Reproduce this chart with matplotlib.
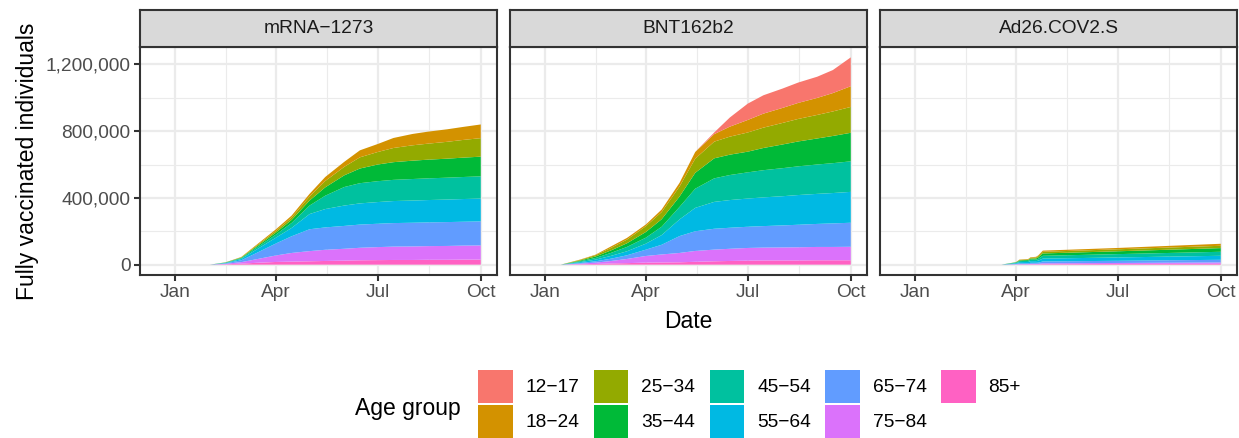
import numpy as np
import matplotlib
matplotlib.use('Agg')
import matplotlib.pyplot as plt
import matplotlib.dates as mdates
from matplotlib.patches import Patch
from matplotlib.ticker import FixedLocator, FuncFormatter
import datetime as dt

plt.rcParams['font.family'] = ['Liberation Sans', 'DejaVu Sans']

vaccines = ['mRNA\u22121273', 'BNT162b2', 'Ad26.COV2.S']
age_groups = ['12\u221217', '18\u221224', '25\u221234', '35\u221244', '45\u221254',
              '55\u221264', '65\u221274', '75\u221284', '85+']
colors = ['#F8766D', '#D39200', '#93AA00', '#00BA38', '#00C19F',
          '#00B9E3', '#619CFF', '#DB72FB', '#FF61C3']

# sample dates for the two mRNA vaccines
dates = ['2020-12-15', '2021-01-01', '2021-01-15', '2021-02-01', '2021-02-15',
         '2021-03-01', '2021-03-15', '2021-04-01', '2021-04-15', '2021-05-01',
         '2021-05-15', '2021-06-01', '2021-06-15', '2021-07-01', '2021-07-15',
         '2021-08-01', '2021-08-15', '2021-09-01', '2021-09-15', '2021-10-01']
dates_ad26 = ['2020-12-15', '2021-03-19', '2021-04-01', '2021-04-04', '2021-04-12',
              '2021-04-14', '2021-04-19', '2021-04-21', '2021-04-25', '2021-07-01',
              '2021-10-01']

# cumulative fully vaccinated, thousands, one row per age group (12-17 ... 85+)
mrna_1273 = [
    [0, 0, 0, 0, 0, 0, 0, 0, 0, 0, 0, 0, 0, 0, 0, 0, 0, 0, 0, 0],
    [0, 0, 0, 0, 0, 2, 5, 10, 12, 16, 24, 30, 42, 48, 60, 68, 72, 75, 78, 82],
    [0, 0, 0, 0, 1, 2, 6, 10, 14, 24, 38, 51, 67, 75, 85, 92, 96, 101, 106, 111],
    [0, 0, 0, 0, 1, 3, 7, 12, 18, 30, 50, 70, 88, 100, 106, 110, 112, 114, 116, 118],
    [0, 0, 0, 0, 2, 5, 11, 18, 30, 51, 80, 111, 121, 125, 127, 129, 130, 131, 132, 133],
    [0, 0, 0, 0, 2, 8, 21, 35, 50, 91, 110, 122, 127, 130, 132, 133, 134, 135, 136, 137],
    [0, 0, 0, 0, 3, 11, 38, 72, 100, 131, 134, 137, 139, 140, 141, 142, 142, 143, 143, 144],
    [0, 0, 0, 0, 3, 9, 22, 39, 52, 61, 67, 71, 75, 78, 80, 81, 82, 83, 84, 85],
    [0, 0, 0, 0, 2, 6, 11, 16, 18, 20, 22, 24, 26, 27, 28, 28, 29, 29, 30, 30],
]
bnt162b2 = [
    [0, 0, 0, 0, 0, 0, 0, 0, 0, 0, 0, 10, 55, 98, 110, 116, 122, 127, 138, 173],
    [0, 0, 0, 2, 3, 9, 10, 10, 15, 22, 40, 45, 60, 75, 84, 90, 96, 102, 110, 124],
    [0, 0, 0, 4, 8, 15, 22, 35, 43, 60, 85, 100, 108, 115, 122, 129, 135, 141, 147, 155],
    [0, 0, 0, 4, 9, 15, 22, 34, 45, 62, 95, 120, 122, 124, 133, 142, 149, 156, 163, 171],
    [0, 0, 0, 5, 10, 18, 26, 36, 50, 75, 115, 141, 150, 157, 163, 168, 172, 176, 179, 183],
    [0, 0, 0, 5, 10, 17, 24, 36, 58, 100, 140, 161, 166, 169, 172, 175, 178, 180, 182, 185],
    [0, 0, 0, 4, 8, 14, 22, 38, 58, 101, 118, 125, 126, 127, 129, 132, 135, 138, 141, 144],
    [0, 0, 0, 4, 8, 15, 25, 40, 48, 56, 65, 70, 73, 76, 77, 78, 79, 80, 80, 81],
    [0, 0, 0, 2, 4, 7, 9, 12, 13, 14, 17, 20, 22, 24, 25, 25, 25, 26, 26, 26],
]
ad26_cov2_s = [
    [0, 0, 0, 0, 0, 0, 0, 0, 0, 0, 0],
    [0, 0, 0, 2, 3, 3, 4, 5, 7, 8, 12],
    [0, 0, 1, 3, 3, 5, 6, 7, 10, 12, 14],
    [0, 0, 2, 4, 5, 6, 7, 9, 14, 17, 22],
    [0, 0, 3, 6, 7, 9, 9, 11, 17, 20, 24],
    [0, 0, 4, 7, 8, 10, 10, 12, 17, 20, 24],
    [0, 0, 3, 5, 5, 6, 6, 7, 11, 13, 16],
    [0, 0, 1, 2, 2, 3, 3, 3, 5, 6, 8],
    [0, 0, 1, 1, 1, 2, 2, 2, 3, 4, 5],
]

W, H = 1239, 438
fig = plt.figure(figsize=(W / 100, H / 100), dpi=100)

def px(x0, y0, x1, y1):
    return [x0 / W, 1 - y1 / H, (x1 - x0) / W, (y1 - y0) / H]

def to_dates(lst):
    return [dt.datetime.strptime(d, '%Y-%m-%d') for d in lst]

x_main = to_dates(dates)
x_ad26 = to_dates(dates_ad26)

d0 = mdates.date2num(x_main[0])
d1 = mdates.date2num(x_main[-1])
xlim = (d0 - 0.05 * (d1 - d0), d1 + 0.05 * (d1 - d0))
ymax = 1242000
ylim = (-0.05 * ymax, 1.05 * ymax)

major_x = mdates.date2num(to_dates(['2021-01-01', '2021-04-01', '2021-07-01', '2021-10-01']))
minor_x = [(major_x[i] + major_x[i + 1]) / 2 for i in range(3)]

panels = [(140, mrna_1273, x_main), (510, bnt162b2, x_main), (880, ad26_cov2_s, x_ad26)]
gray20 = '#333333'
small = 13.8

for i, (left, layers, xd) in enumerate(panels):
    ax = fig.add_axes(px(left, 47, left + 357, 275))
    ys = [np.array(v) * 1000 for v in layers][::-1]
    ax.stackplot(xd, ys, colors=colors[::-1], linewidth=0)
    ax.set_xlim(xlim)
    ax.set_ylim(ylim)
    ax.set_axisbelow(True)
    ax.xaxis.set_major_locator(FixedLocator(major_x))
    ax.xaxis.set_minor_locator(FixedLocator(minor_x))
    ax.set_xticklabels(['Jan', 'Apr', 'Jul', 'Oct'])
    ax.yaxis.set_major_locator(FixedLocator([0, 400000, 800000, 1200000]))
    ax.yaxis.set_minor_locator(FixedLocator([200000, 600000, 1000000]))
    ax.yaxis.set_major_formatter(FuncFormatter(lambda v, p: f'{int(v):,}'))
    ax.grid(which='major', color='#EBEBEB', linewidth=1.6)
    ax.grid(which='minor', color='#EBEBEB', linewidth=0.8)
    for s in ax.spines.values():
        s.set_color(gray20)
        s.set_linewidth(1.5)
    ax.tick_params(axis='both', which='major', length=4.2, width=1.5, color=gray20,
                   labelsize=small, labelcolor='#4D4D4D', pad=2.5)
    ax.tick_params(axis='both', which='minor', length=0)
    if i > 0:
        ax.tick_params(axis='y', which='major', length=0, labelleft=False)
    else:
        ax.set_ylabel('Fully vaccinated individuals', fontsize=16.5, labelpad=5)

    st = fig.add_axes(px(left, 10, left + 357, 47))
    st.set_facecolor('#D9D9D9')
    st.set_xticks([])
    st.set_yticks([])
    for s in st.spines.values():
        s.set_color(gray20)
        s.set_linewidth(1.5)
    st.text(0.5, 0.5, vaccines[i], ha='center', va='center', fontsize=small,
            color='#1A1A1A', transform=st.transAxes)

fig.text(688.5 / W, 1 - 322 / H, 'Date', ha='center', va='center', fontsize=16.5)

fig.text(355 / W, 1 - 408 / H, 'Age group', ha='left', va='center', fontsize=16.5)
handles = [Patch(facecolor=c, edgecolor='none') for c in colors]
fig.legend(handles, age_groups, loc='upper left', bbox_to_anchor=(478 / W, 1 - 370 / H),
           ncol=5, frameon=False, fontsize=small, handlelength=1.8, handleheight=2.27,
           handletextpad=0.68, columnspacing=0.75, labelspacing=0.1,
           borderpad=0, borderaxespad=0)

fig.savefig('out.png', dpi=100)
